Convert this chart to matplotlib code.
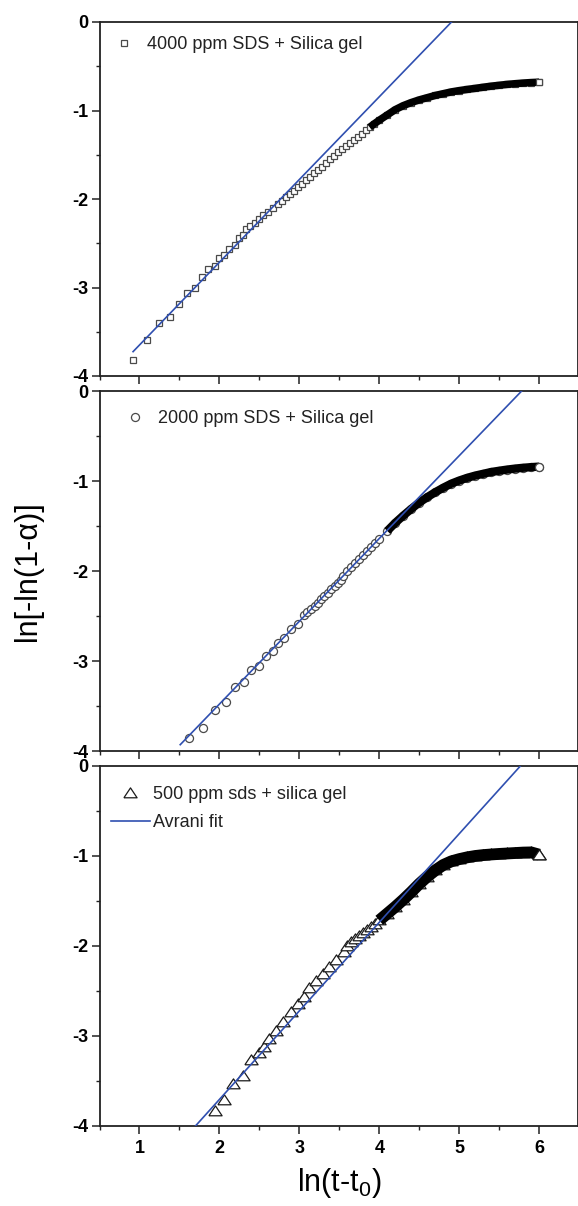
import numpy as np
import matplotlib
matplotlib.use("Agg")
import matplotlib.pyplot as plt
from matplotlib.ticker import MultipleLocator, FixedLocator, NullFormatter
from matplotlib.lines import Line2D

plt.rcParams['font.family'] = ['Liberation Sans', 'DejaVu Sans']
plt.rcParams['axes.unicode_minus'] = False
plt.rcParams['mathtext.fontset'] = 'custom'
plt.rcParams['mathtext.rm'] = 'Liberation Sans'

# ---- measured data: ln(t - t0) vs ln[-ln(1 - alpha)] ----
labels = ["4000 ppm SDS + Silica gel",
          "2000 ppm SDS + Silica gel",
          "500 ppm sds + silica gel"]
fit_label = "Avrani fit"

x_4000 = [0.92, 1.10, 1.25, 1.38, 1.49, 1.60, 1.70, 1.78, 1.86, 1.94, 2.00, 2.06,
          2.12, 2.19, 2.24, 2.29, 2.33, 2.38, 2.44, 2.49, 2.55, 2.61, 2.67, 2.73,
          2.78, 2.83, 2.88, 2.93, 2.98, 3.03, 3.08, 3.13, 3.18, 3.23, 3.28, 3.33,
          3.38, 3.43, 3.48, 3.53, 3.58, 3.63, 3.68, 3.73, 3.78, 3.83, 3.88, 3.93,
          4.00, 4.10, 4.20, 4.30, 4.40, 4.50, 4.60, 4.70, 4.80, 4.90, 5.00, 5.10,
          5.20, 5.30, 5.40, 5.50, 5.60, 5.70, 5.80, 5.90, 6.00]
y_4000 = [-3.82, -3.59, -3.40, -3.33, -3.19, -3.06, -3.00, -2.885, -2.795, -2.755, -2.67, -2.63,
          -2.56, -2.52, -2.44, -2.41, -2.34, -2.31, -2.27, -2.23, -2.18, -2.145, -2.10, -2.06,
          -2.02, -1.98, -1.945, -1.905, -1.865, -1.825, -1.79, -1.75, -1.71, -1.67, -1.635, -1.59,
          -1.55, -1.51, -1.47, -1.435, -1.40, -1.365, -1.33, -1.295, -1.26, -1.225, -1.19, -1.155,
          -1.11, -1.05, -0.99, -0.945, -0.91, -0.88, -0.855, -0.83, -0.81, -0.79, -0.775, -0.762,
          -0.75, -0.737, -0.725, -0.715, -0.705, -0.697, -0.69, -0.684, -0.68]

x_2000 = [1.62, 1.79, 1.95, 2.08, 2.20, 2.31, 2.40, 2.49, 2.58, 2.67, 2.73, 2.81,
          2.90, 2.98, 3.06, 3.10, 3.15, 3.19, 3.23, 3.27, 3.31, 3.36, 3.40, 3.44,
          3.48, 3.52, 3.55, 3.60, 3.65, 3.70, 3.75, 3.80, 3.85, 3.90, 3.95, 4.00,
          4.10, 4.20, 4.30, 4.40, 4.50, 4.60, 4.70, 4.80, 4.90, 5.00, 5.10, 5.20,
          5.30, 5.40, 5.50, 5.60, 5.70, 5.80, 5.90, 6.00]
y_2000 = [-3.86, -3.74, -3.54, -3.46, -3.29, -3.23, -3.10, -3.05, -2.94, -2.89, -2.80, -2.74,
          -2.64, -2.585, -2.49, -2.46, -2.42, -2.385, -2.35, -2.315, -2.28, -2.24, -2.20, -2.165,
          -2.13, -2.095, -2.05, -2.005, -1.96, -1.915, -1.87, -1.825, -1.78, -1.735, -1.69, -1.645,
          -1.555, -1.465, -1.385, -1.31, -1.24, -1.18, -1.125, -1.075, -1.03, -0.995, -0.965, -0.94,
          -0.92, -0.90, -0.886, -0.873, -0.862, -0.853, -0.846, -0.84]

x_500 = [1.94, 2.06, 2.17, 2.29, 2.40, 2.50, 2.56, 2.625, 2.71, 2.79, 2.90, 2.98,
         3.06, 3.125, 3.21, 3.29, 3.375, 3.46, 3.56, 3.60, 3.65, 3.70, 3.75, 3.80,
         3.85, 3.90, 3.95, 4.00, 4.10, 4.20, 4.30, 4.40, 4.50, 4.60, 4.70, 4.80,
         4.90, 5.00, 5.10, 5.20, 5.30, 5.40, 5.50, 5.60, 5.70, 5.80, 5.90, 6.00]
y_500 = [-3.83, -3.71, -3.53, -3.44, -3.27, -3.19, -3.12, -3.03, -2.94, -2.84, -2.73, -2.64,
         -2.57, -2.47, -2.39, -2.31, -2.23, -2.16, -2.07, -2.00, -1.96, -1.925, -1.89, -1.855,
         -1.82, -1.785, -1.75, -1.715, -1.64, -1.565, -1.485, -1.40, -1.31, -1.23, -1.16, -1.10,
         -1.06, -1.035, -1.015, -1.00, -0.99, -0.983, -0.977, -0.972, -0.967, -0.962, -0.96, -0.985]

# Avrami fits: slope n, intercept ln k, and fitted x range
fit_slope = [0.935, 0.920, 0.984]
fit_intercept = [-4.585, -5.319, -5.673]
fit_xrange = [(0.92, 5.0), (1.51, 5.9), (1.65, 5.9)]

x_ticks = [1, 2, 3, 4, 5, 6]
y_ticks = [0, -1, -2, -3, -4]

# ---- styling ----
W, H = 578, 1206
BLUE = '#2f4fb0'
series = [
    dict(x=x_4000, y=y_4000, marker='s', ms=4.7, mec='#4a4a4a', band_from=3.85, band_lw=5.4),
    dict(x=x_2000, y=y_2000, marker='o', ms=5.8, mec='#4a4a4a', band_from=4.1, band_lw=6.0),
    dict(x=x_500, y=y_500, marker=[(-1, -0.65), (1, -0.65), (0, 0.85), (-1, -0.65)],
         ms=9.5, mec='#1a1a1a', band_from=4.0, band_lw=8.5),
]
# axes boxes in pixels: (left, top, right, bottom)
boxes = [(99.5, 22, 577.5, 376), (99.5, 391, 577.5, 751), (99.5, 766, 577.5, 1126)]
legend_anchor_px = [(5, 14), (16, 19), (11, 20)]

fig = plt.figure(figsize=(W / 100, H / 100), dpi=100)

for i, (s, box) in enumerate(zip(series, boxes)):
    l, t, r, b = box
    ax = fig.add_axes([l / W, 1 - b / H, (r - l) / W, (b - t) / H])
    ax.set_xlim(0.5, 6.48)
    ax.set_ylim(-4, 0)

    xs = np.array(s['x'])
    ys = np.array(s['y'])

    ax.plot(xs, ys, ls='none', marker=s['marker'], ms=s['ms'], mfc='white',
            mec=s['mec'], mew=0.9, zorder=3)
    dense = xs >= s['band_from']
    ax.plot(xs[dense], ys[dense], color='black', lw=s['band_lw'],
            solid_capstyle='butt', zorder=4)
    ax.plot(xs[-1:], ys[-1:], ls='none', marker=s['marker'], ms=s['ms'], mfc='white',
            mec=s['mec'], mew=0.9, zorder=5)

    x0, x1 = fit_xrange[i]
    fx = np.array([x0, x1])
    ax.plot(fx, fit_slope[i] * fx + fit_intercept[i], color=BLUE, lw=1.2, zorder=6)

    handles = [Line2D([], [], ls='none', marker=s['marker'], ms=s['ms'], mfc='white',
                      mec=s['mec'], mew=0.9)]
    names = [labels[i]]
    if i == 2:
        handles.append(Line2D([], [], color=BLUE, lw=1.2))
        names.append(fit_label)
    ax_w = r - l
    ax_h = b - t
    ox, oy = legend_anchor_px[i]
    leg = ax.legend(handles, names, loc='upper left',
                    bbox_to_anchor=(ox / ax_w, 1 - oy / ax_h),
                    frameon=False, borderpad=0, borderaxespad=0,
                    handlelength=2.17, handletextpad=0.2, labelspacing=0.62,
                    prop={'family': 'Liberation Sans', 'size': 13})
    for txt in leg.get_texts():
        txt.set_color('#222222')

    ax.xaxis.set_major_locator(FixedLocator(x_ticks))
    ax.xaxis.set_minor_locator(MultipleLocator(0.5))
    ax.yaxis.set_major_locator(FixedLocator(y_ticks))
    ax.yaxis.set_minor_locator(MultipleLocator(0.5))
    ax.set_yticklabels([str(v) for v in y_ticks])
    if i == 2:
        ax.set_xticklabels([str(v) for v in x_ticks])
    else:
        ax.xaxis.set_major_formatter(NullFormatter())

    ax.tick_params(which='major', direction='out', length=5.8, width=1.1,
                   color='#222222', labelsize=13, pad=2.5)
    ax.tick_params(axis='x', which='major', pad=4)
    ax.tick_params(which='minor', direction='out', length=3.0, width=1.0, color='#222222')
    ax.tick_params(top=False, right=False, which='both')
    for lab in ax.get_xticklabels() + ax.get_yticklabels():
        lab.set_fontweight('bold')
    for sp in ax.spines.values():
        sp.set_linewidth(1.3)
        sp.set_color('#222222')

fig.text(27.6 / W, 1 - 571 / H, 'ln[-ln(1-α)]', rotation=90, ha='center', va='center',
         fontsize=22)
fig.text(339 / W, 1 - 1183 / H, r'ln(t-t$_\mathregular{0}$)', ha='center', va='center',
         fontsize=22)

fig.savefig('out.png', dpi=100)
